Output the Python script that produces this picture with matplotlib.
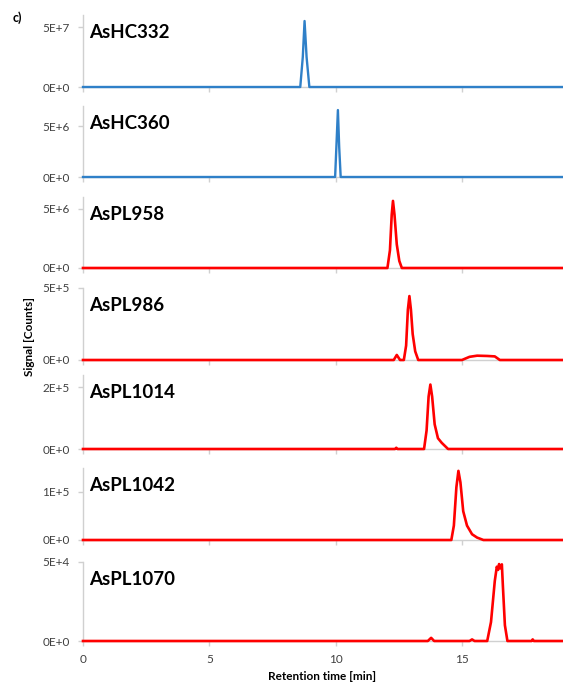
#!/usr/bin/env python3

import matplotlib
matplotlib.use('Agg')
import matplotlib.pyplot as plt

plt.rcParams['font.family'] = ['Lato', 'DejaVu Sans']

# Panel names, colours and y-axis settings
names = ['AsHC332', 'AsHC360', 'AsPL958', 'AsPL986', 'AsPL1014', 'AsPL1042', 'AsPL1070']
y_max = [6e7, 7e6, 6e6, 5e5, 2.4e5, 1.5e5, 5e4]
y_top_tick = [5e7, 5e6, 5e6, 5e5, 2e5, 1e5, 5e4]
y_top_label = ['5E+7', '5E+6', '5E+6', '5E+5', '2E+5', '1E+5', '5E+4']

# Chromatogram traces (retention time in min, signal in counts)
hc332_x = [0, 8.6, 8.7, 8.77, 8.85, 8.96, 19]
hc332_y = [0, 0, 2.5e7, 5.5e7, 2.5e7, 0, 0]

hc360_x = [0, 9.98, 10.03, 10.09, 10.14, 10.2, 19]
hc360_y = [0, 0, 3e6, 6.6e6, 3e6, 0, 0]

pl958_x = [0, 12.05, 12.15, 12.22, 12.27, 12.33, 12.42, 12.52, 12.62, 19]
pl958_y = [0, 0, 1.5e6, 4.5e6, 5.67e6, 4.5e6, 2e6, 0.6e6, 0, 0]

pl986_x = [0, 12.3, 12.42, 12.55, 12.7, 12.79, 12.86, 12.92, 12.98, 13.05, 13.15, 13.27,
           15.0, 15.3, 15.6, 16.0, 16.3, 16.5, 19]
pl986_y = [0, 0, 3.5e4, 0, 0, 1e5, 3.5e5, 4.44e5, 3.5e5, 1.8e5, 6e4, 0,
           0, 2.2e4, 3e4, 2.8e4, 2.5e4, 0, 0]

pl1014_x = [0, 12.35, 12.4, 12.45, 13.5, 13.6, 13.68, 13.75, 13.82, 13.92, 14.05, 14.2, 14.45, 19]
pl1014_y = [0, 0, 4e3, 0, 0, 6e4, 1.7e5, 2.09e5, 1.7e5, 8e4, 3.5e4, 2e4, 0, 0]

pl1042_x = [0, 14.58, 14.68, 14.78, 14.86, 14.94, 15.05, 15.2, 15.4, 15.6, 15.85, 19]
pl1042_y = [0, 0, 3e4, 1.1e5, 1.44e5, 1.2e5, 6e4, 3e4, 1.2e4, 5e3, 0, 0]

pl1070_x = [0, 13.65, 13.78, 13.9, 15.3, 15.4, 15.5, 16.0, 16.15, 16.3, 16.38, 16.43, 16.47,
            16.52, 16.58, 16.62, 16.7, 16.8, 17.75, 17.8, 17.85, 19]
pl1070_y = [0, 0, 2e3, 0, 0, 1e3, 0, 0, 1.2e4, 3.8e4, 4.7e4, 4.5e4, 4.87e4,
            4.6e4, 4.85e4, 3.5e4, 1e4, 0, 0, 1e3, 0, 0]

traces = [(hc332_x, hc332_y), (hc360_x, hc360_y), (pl958_x, pl958_y), (pl986_x, pl986_y),
          (pl1014_x, pl1014_y), (pl1042_x, pl1042_y), (pl1070_x, pl1070_y)]

BLUE = '#2f80c8'
RED = '#ff0000'
GREY = '#d0d0d0'
colors = [BLUE, BLUE, RED, RED, RED, RED, RED]

# Panel extents in pixels (top, bottom) of the 563x684 picture
W, H = 563, 684
panel_px = [(15, 87), (106, 177), (197, 268), (288, 360), (375, 449), (468, 540), (562, 641)]
left_px = 83
x_max = 19

fig = plt.figure(figsize=(W / 100, H / 100), dpi=100)

for i, (top, bottom) in enumerate(panel_px):
    ax = fig.add_axes([left_px / W, 1 - bottom / H, (W - left_px) / W, (bottom - top) / H])
    xs, ys = traces[i]
    lw = 1.7 if colors[i] == BLUE else 1.9
    ax.plot(xs, ys, color=colors[i], lw=lw, solid_joinstyle='round', clip_on=False, zorder=3)
    ax.set_xlim(0, x_max)
    ax.set_ylim(0, y_max[i])
    ax.set_yticks([0, y_top_tick[i]])
    ax.set_yticklabels(['0E+0', y_top_label[i]])
    ax.set_xticks([0, 5, 10, 15])
    for side in ['top', 'right']:
        ax.spines[side].set_visible(False)
    for side in ['left', 'bottom']:
        ax.spines[side].set_color(GREY)
        ax.spines[side].set_linewidth(1.0)
    ax.tick_params(axis='both', colors=GREY, labelcolor='#404040', labelsize=8.5,
                   length=3.5, width=1.0)
    ax.tick_params(axis='y', pad=6)
    ax.tick_params(axis='x', pad=6)
    if i < len(panel_px) - 1:
        ax.tick_params(axis='x', labelbottom=False)
    ax.text(0.012, 0.88, names[i], transform=ax.transAxes, ha='left', va='top',
            fontsize=13.5, fontweight='bold', color='black')
    ax.set_facecolor('none')

fig.text(13 / W, 1 - 18 / H, 'c)', fontsize=9, fontweight='bold', ha='left', va='center')
fig.text(30 / W, 1 - 336 / H, 'Signal [Counts]', rotation=90, fontsize=8.5,
         fontweight='bold', ha='center', va='center')
fig.text(322 / W, 1 - 676 / H, 'Retention time [min]', fontsize=8.5,
         fontweight='bold', ha='center', va='center')

fig.savefig('out.png', dpi=100)
